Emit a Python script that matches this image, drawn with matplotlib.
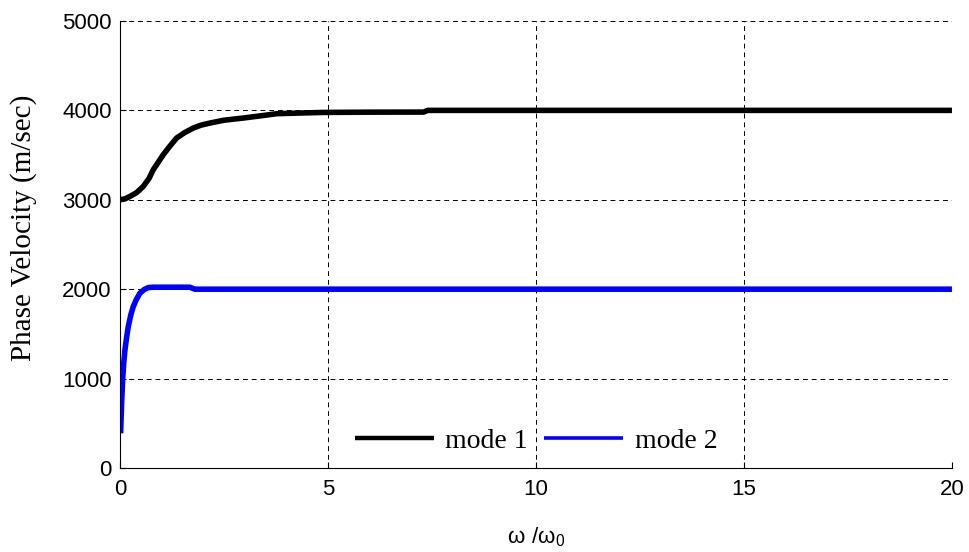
#!/usr/bin/env python
import matplotlib
matplotlib.use('Agg')
import matplotlib.pyplot as plt
import numpy as np

# values
mode1_x = [0.0, 0.12, 0.24, 0.4, 0.56, 0.7, 0.8, 0.92, 1.04, 1.2, 1.36, 1.55, 1.76, 1.95, 2.16,
           2.5, 2.96, 3.4, 3.77, 4.3, 4.89, 6.0, 7.3, 7.4, 10.0, 15.0, 20.0]
mode1_y = [3000, 3010, 3037, 3080, 3149, 3240, 3336, 3420, 3504, 3600, 3690, 3750, 3802, 3835, 3858,
           3890, 3914, 3940, 3963, 3970, 3977, 3980, 3981, 4000, 4000, 4000, 4000]

mode2_x = [0.016, 0.04, 0.064, 0.09, 0.12, 0.16, 0.2, 0.26, 0.32, 0.4, 0.48, 0.58, 0.68, 0.8,
           1.0, 1.68, 1.8, 5.0, 10.0, 20.0]
mode2_y = [388, 724, 985, 1170, 1320, 1460, 1582, 1710, 1806, 1890, 1955, 1995, 2018, 2022,
           2022, 2022, 2000, 2000, 2000, 2000]

x_ticks = [0, 5, 10, 15, 20]
y_ticks = [0, 1000, 2000, 3000, 4000, 5000]

fig = plt.figure(figsize=(9.69, 5.52), dpi=100)
ax = fig.add_axes([0.1238, 0.1522, 0.8586, 0.8098])

ax.plot(mode1_x, mode1_y, color='black', lw=4, label='mode 1', solid_capstyle='butt')
ax.plot(mode2_x, mode2_y, color='blue', lw=4, label='mode 2', solid_capstyle='butt')

ax.set_xlim(0, 20)
ax.set_ylim(0, 5000)
ax.set_xticks(x_ticks)
ax.set_yticks(y_ticks)
ax.tick_params(direction='in', length=4, labelsize=16)
ax.tick_params(axis='x', pad=8)
ax.tick_params(axis='y', pad=6)
for lab in ax.get_xticklabels() + ax.get_yticklabels():
    lab.set_family('Liberation Sans')

ax.grid(True, color='black', linestyle=(0, (5, 4)), linewidth=0.7)
ax.set_axisbelow(True)
ax.spines['top'].set_visible(False)
ax.spines['right'].set_visible(False)

ax.set_ylabel('Phase Velocity (m/sec)', family='Liberation Serif', fontsize=21)
ax.yaxis.set_label_coords(-0.1, 0.537)
ax.set_xlabel(r'$\mathregular{\omega\ /\omega_0}$', family='Liberation Sans', fontsize=16, labelpad=18)

leg = ax.legend(loc='lower center', ncol=2, frameon=False, bbox_to_anchor=(0.5, -0.025),
                prop={'family': 'Liberation Serif', 'size': 20}, handlelength=2.85,
                columnspacing=0.6, handletextpad=0.4)
leg.get_lines()[0].set_linewidth(3.2)
leg.get_lines()[1].set_linewidth(2.6)

plt.savefig('out.png', dpi=100)
